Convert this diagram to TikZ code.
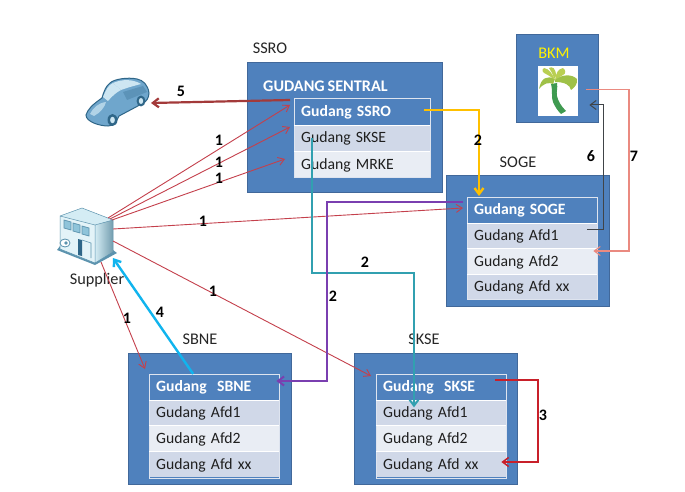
\documentclass[tikz,border=0pt]{standalone}
\usepackage{fontspec}
\setmainfont[WordSpace=0.8]{Carlito}
\usetikzlibrary{arrows.meta,calc}
\definecolor{boxfill}{HTML}{4F81BD}
\definecolor{boxedge}{HTML}{41689A}
\definecolor{rowa}{HTML}{D0D8E8}
\definecolor{rowb}{HTML}{E9EDF4}
\definecolor{redline}{HTML}{C4404C}
\definecolor{darkred}{HTML}{A33A3A}
\definecolor{goldline}{HTML}{FFC000}
\definecolor{tealline}{HTML}{31A0B0}
\definecolor{purpleline}{HTML}{7A3FB0}
\definecolor{skyline}{HTML}{10B4EE}
\definecolor{crimsonline}{HTML}{C8202A}
\definecolor{darkline}{HTML}{404448}
\definecolor{pinkline}{HTML}{EA8A80}
\definecolor{carmid}{HTML}{6FA6CC}
\definecolor{carlight}{HTML}{CDE6F2}
\definecolor{cardark}{HTML}{2F6688}
\definecolor{bldlight}{HTML}{D4ECF4}
\definecolor{bldmid}{HTML}{8FC4DA}
\definecolor{bldedge}{HTML}{5C93AE}
\definecolor{frond}{HTML}{B9CF52}
\definecolor{frondb}{HTML}{9FC148}
\definecolor{trunk}{HTML}{3F9A50}
\tikzset{
  warebox/.style={draw=boxedge,line width=1.4pt,fill=boxfill,anchor=north west,inner sep=0pt},
  rowbase/.style={anchor=north west,inner ysep=0pt,inner xsep=7pt,text width=#1-14pt,text height=12pt,text depth=2pt,minimum height=25.5pt,font=\fontsize{15.7}{15.7}\selectfont,text=black!88,align=left},
  rowhead/.style={rowbase=#1,fill=boxfill,text=white,font=\fontsize{15.7}{15.7}\selectfont\bfseries},
  rowodd/.style={rowbase=#1,fill=rowa},
  roweven/.style={rowbase=#1,fill=rowb},
  frameline/.style={draw=rowa!70!white,line width=1pt},
  tag/.style={font=\fontsize{16.3}{16.3}\selectfont,text=black!85,inner sep=0pt},
  num/.style={font=\fontsize{16}{16}\selectfont\bfseries,text=black,inner sep=0pt},
  thinred/.style={draw=redline,line width=0.9pt,-{Straight Barb[length=6pt,width=8pt]}},
  flow/.style={line width=#1,-{Straight Barb[length=6pt,width=9pt]}},
}
\newcommand{\wareframe}[6]{%
  % prefix, x, y, width, head, first row
  \node[rowhead=#4pt] (#1h) at (#2,#3) {#5};
  \node[rowodd=#4pt] (#1a) at (#2,#3+26) {#6};
}
\begin{document}
\begin{tikzpicture}[x=1pt,y=-1pt]
\useasboundingbox (0,0) rectangle (685,492);
\fill[white] (0,0) rectangle (685,492);

% outer boxes
\node[warebox,minimum width=195pt,minimum height=130pt] (ssro) at (247,62) {};
\node[warebox,minimum width=163pt,minimum height=131pt] (soge) at (446,175) {};
\node[warebox,minimum width=82pt,minimum height=88pt] (bkm) at (516,34) {};
\node[warebox,minimum width=163pt,minimum height=131pt] (sbne) at (128,353) {};
\node[warebox,minimum width=163pt,minimum height=131pt] (skse) at (354,353) {};

% region labels
\node[tag] (lssro) at (270,48) {SSRO};
\node[tag] (lsoge) at (518,162) {SOGE};
\node[tag] (lsbne) at (200,339) {SBNE};
\node[tag] (lskse) at (424,339) {SKSE};
\node[tag] (lsup) at (97,280) {Supplier};
\node[tag,text=yellow] (lbkm) at (554,53) {BKM};
\node[anchor=west,inner sep=0pt,text=white,font=\fontsize{16.2}{16.2}\selectfont\bfseries] (lsentral) at (263,86) {GUDANG SENTRAL};

% SSRO table
\wareframe{s}{294}{99}{136}{Gudang SSRO}{Gudang SKSE}
\node[roweven=136pt] (sb) at (294,151.5) {Gudang MRKE};
\draw[frameline] (294,99) rectangle (430,177);
\draw[white,line width=1pt] (294,125.3) -- (430,125.3) (294,151.5) -- (430,151.5);

% SOGE table
\wareframe{g}{467}{197}{130}{Gudang SOGE}{Gudang Afd1}
\node[roweven=130pt] (gb) at (467,248.5) {Gudang Afd2};
\node[rowodd=130pt] (gc) at (467,274) {Gudang Afd xx};
\draw[frameline] (467,197) rectangle (597,299);
\draw[white,line width=1pt] (467,223) -- (597,223) (467,248.5) -- (597,248.5) (467,274) -- (597,274);

% SBNE table
\wareframe{b}{149}{374}{130}{Gudang~~SBNE}{Gudang Afd1}
\node[roweven=130pt] (bb) at (149,425.5) {Gudang Afd2};
\node[rowodd=130pt] (bc) at (149,451.5) {Gudang Afd xx};
\draw[frameline] (149,374) rectangle (279,478);
\draw[white,line width=1pt] (149,400) -- (279,400) (149,425.5) -- (279,425.5) (149,451.5) -- (279,451.5);

% SKSE table
\wareframe{k}{376}{374}{130}{Gudang~~SKSE}{Gudang Afd1}
\node[roweven=130pt] (kb) at (376,425.5) {Gudang Afd2};
\node[rowodd=130pt] (kc) at (376,451.5) {Gudang Afd xx};
\draw[frameline] (376,374) rectangle (506,478);
\draw[white,line width=1pt] (376,400) -- (506,400) (376,425.5) -- (506,425.5) (376,451.5) -- (506,451.5);

% palm picture
\node[fill=white,anchor=north west,inner sep=0pt,minimum width=40pt,minimum height=50pt] (palm) at (538,66) {};
\fill[trunk] (551,84) .. controls (553,92) and (551,97) .. (553,102) .. controls (555,107) and (558,111) .. (561,114) -- (566,111) .. controls (561,106) and (558,101) .. (557,96) .. controls (556,92) and (558,88) .. (557,83) -- cycle;
\fill[frondb] (555,79) .. controls (547,75) and (541,78) .. (539,89) .. controls (544,83) and (549,82) .. (553,84) -- cycle;
\fill[frond] (555,80) .. controls (552,73) and (549,69) .. (544,68) .. controls (541,70) and (543,73) .. (546,74) .. controls (550,76) and (552,78) .. (555,80) -- cycle;
\fill[frond] (555,80) .. controls (556,73) and (558,69) .. (563,68) .. controls (566,70) and (566,74) .. (563,75) .. controls (560,77) and (558,78) .. (555,80) -- cycle;
\fill[frondb] (555,80) .. controls (562,74) and (572,74) .. (577,79) .. controls (578,84) and (574,88) .. (571,90) .. controls (570,85) and (565,82) .. (555,82) -- cycle;
\fill[frond] (549,68) .. controls (552,66) and (556,68) .. (556,76) -- (554,79) .. controls (553,74) and (551,71) .. (549,68) -- cycle;

% car
\node[inner sep=0pt,minimum width=66pt,minimum height=48pt] (car) at (117,102) {};
\filldraw[draw=cardark,line width=1pt,fill=carmid] (86,115) .. controls (88,109) and (92,105) .. (102,98) .. controls (104,91) and (106,86) .. (110,83) .. controls (114,79) and (128,77) .. (137,79) .. controls (143,80) and (148,85) .. (149,93) .. controls (149,98) and (146,102) .. (143,103) -- (136,107) -- (119,116) .. controls (116,122) and (114,126) .. (108,126) .. controls (100,126) and (86,122) .. (86,115) -- cycle;
\fill[carlight] (103,97) .. controls (106,90) and (108,85) .. (113,83) -- (121,90) .. controls (117,92) and (112,96) .. (108,101) -- cycle;
\fill[carlight] (113,83) .. controls (122,79) and (133,79) .. (141,84) -- (130,87) -- (121,90) -- cycle;
\fill[carlight!70!carmid] (90,114) .. controls (93,108) and (98,103) .. (106,102) .. controls (105,107) and (100,113) .. (94,116) -- cycle;
\fill[carmid!70!cardark] (123,92) -- (143,86) -- (147,92) -- (127,100) -- cycle;
\fill[cardark] (112.5,120) ellipse (5pt and 6pt);
\fill[carlight] (112.5,120) ellipse (2.4pt and 3.2pt);
\fill[cardark] (141,101) ellipse (4.5pt and 5.5pt);
\fill[carlight] (141,101) ellipse (2.2pt and 3pt);

% supplier building
\node[inner sep=0pt,minimum width=60pt,minimum height=58pt] (bld) at (87,236) {};
\fill[bldedge] (57,250) -- (95,265) -- (117,253) -- (113,250) -- (95,258) -- (60,246) -- cycle;
\fill[bldlight] (60,216) -- (82,208) -- (113,220) -- (95,225) -- cycle;
\fill[bldlight!65!white] (60,216) -- (95,225) -- (95,263) -- (60,249) -- cycle;
\shade[left color=bldlight,right color=bldmid!80!black] (95,225) -- (113,220) -- (113,252) -- (95,263) -- cycle;
\draw[bldedge,line width=0.5pt] (60,216) -- (82,208) -- (113,220) -- (113,252) -- (95,263) -- (60,249) -- cycle (60,216) -- (95,225) -- (95,263) (95,225) -- (113,220);
\draw[bldedge,line width=0.7pt,fill=bldmid] (64,220) -- (71,222) -- (71,230) -- (64,228) -- cycle (73,223) -- (80,225) -- (80,233) -- (73,231) -- cycle (82,226) -- (89,228) -- (89,236) -- (82,234) -- cycle;
\fill[cardark] (78,239) -- (82,240) -- (82,256) -- (78,255) -- cycle;
\draw[bldedge,line width=0.6pt] (82,240) -- (91,243) -- (91,258);
\filldraw[draw=bldedge,fill=white,line width=0.8pt] (65,243) ellipse (5pt and 4pt);
\fill[bldedge] (66,243) circle (1.8pt);

% connectors
\coordinate (carTip) at (151,103);
\draw[darkred,flow=2.2pt] ([xshift=-4pt,yshift=-1pt]sh.north west) -- (carTip);

\coordinate (supA) at (108,218);
\coordinate (supB) at (110,219);
\coordinate (supC) at (112,220);
\coordinate (supD) at (113,229);
\coordinate (supE) at (113,241);
\coordinate (supF) at (101,262);
\coordinate (supIn) at (113,258);
\draw[thinred] (supA) -- ([xshift=-4pt,yshift=-6pt]sh.north west);
\draw[thinred] (supB) -- ([xshift=-4pt,yshift=-2pt]sa.north west);
\draw[thinred] (supC) -- ([xshift=-9pt,yshift=-7.5pt]sb.north west);
\draw[thinred] (supD) -- ([xshift=-4pt,yshift=-11pt]gh.north west);
\draw[thinred] (supE) -- ([xshift=-5pt,yshift=-2pt]kh.north west);
\draw[thinred] (supF) -- ([xshift=-4pt,yshift=5pt]bh.north west);
\draw[skyline,flow=2.4pt] ([xshift=-21pt]bh.north) -- (supIn);

\draw[goldline,flow=2.4pt] ([xshift=-6pt,yshift=2pt]sh.east) -| ([xshift=12pt,yshift=1pt]gh.north west);
\draw[tealline,flow=2pt] ([xshift=18pt,yshift=-13pt]sa.north west) |- (414,273) -- ([xshift=38pt,yshift=-7.5pt]kh.south west);
\draw[purpleline,flow=2pt] ([xshift=-4pt,yshift=-5pt]gh.north west) -| (327,381) -- ([xshift=-3pt,yshift=-7pt]bh.north east);
\draw[crimsonline,flow=1.5pt] ([xshift=-11pt,yshift=-6pt]kh.north east) -| (538,462) -- ([xshift=-5pt]kc.east |- 0,462);
\draw[darkline,flow=1pt] ([xshift=-10pt,yshift=-6pt]ga.north east) -| (603,105) -- ([xshift=11pt]palm.east |- 0,105);
\draw[pinkline,flow=1.1pt] ([xshift=8pt,yshift=2pt]palm.east) -| (629,251) -- ([xshift=-4pt,yshift=-2.5pt]gb.north east);

% numbers
\node[num] (n5) at (181,91) {5};
\node[num] (n1a) at (219,140) {1};
\node[num] (n1b) at (219,162) {1};
\node[num] (n1c) at (219,178) {1};
\node[num] (n1d) at (203,221) {1};
\node[num] (n1e) at (213,291) {1};
\node[num] (n1f) at (127,318) {1};
\node[num] (n4) at (160,312) {4};
\node[num] (n2a) at (478,140) {2};
\node[num] (n2b) at (365,262) {2};
\node[num] (n2c) at (333,296) {2};
\node[num] (n3) at (543,415) {3};
\node[num] (n6) at (591,156) {6};
\node[num] (n7) at (634,156) {7};
\end{tikzpicture}
\end{document}
